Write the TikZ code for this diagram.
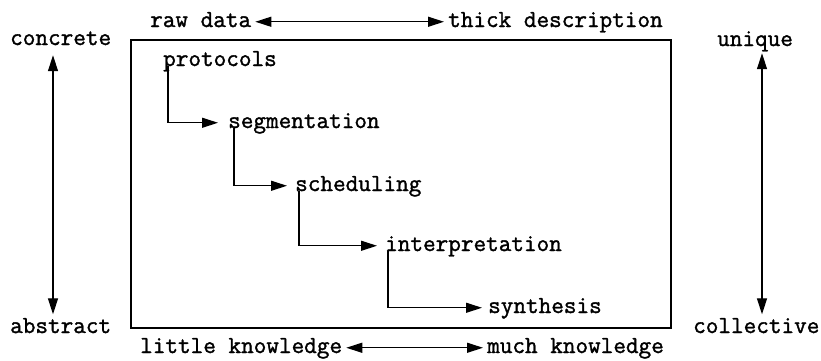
\documentclass[tikz,border=0pt]{standalone}
\usepackage{fontspec}
\newfontfamily\twfont{Latin Modern Mono}[FakeBold=1.4]
\usetikzlibrary{arrows.meta}
\begin{document}
\begin{tikzpicture}[x=1pt,y=-1pt,
  word/.style={inner sep=0pt, anchor=base west, text height=10.5pt, text depth=0pt,
    font=\twfont\fontsize{24.5}{28}\selectfont},
  frame/.style={line width=1.4pt},
  link/.style={-{Triangle[length=16pt,width=10pt]}, line width=1.2pt, shorten >=8pt},
  twoway/.style={{Triangle[length=16pt,width=10pt]}-{Triangle[length=16pt,width=10pt]},
    line width=1.2pt, shorten >=4pt, shorten <=4pt}]
  \useasboundingbox (0,0) rectangle (821,360);

  % frame around the stages
  \draw[frame] (131,40) rectangle (671,328);

  % outer scale labels
  \node[word] (raw) at (150,27) {raw data};
  \node[word] (thick) at (448,27) {thick description};
  \node[word] (concrete) at (10,45) {concrete};
  \node[word] (unique) at (717,46) {unique};
  \node[word] (abstract) at (10,333) {abstract};
  \node[word] (collective) at (693,333) {collective};
  \node[word] (little) at (140,353) {little knowledge};
  \node[word] (much) at (487,353) {much knowledge};

  % stages
  \node[word] (protocols) at (163,66) {protocols};
  \node[word] (segmentation) at (228,128) {segmentation};
  \node[word] (scheduling) at (295,191) {scheduling};
  \node[word] (interpretation) at (385,251) {interpretation};
  \node[word] (synthesis) at (488,313) {synthesis};

  % axes
  \coordinate (laxis) at (53,0);
  \coordinate (raxis) at (762,0);
  \draw[twoway] (raw.east) -- (thick.west);
  \draw[twoway] (little.east) -- (much.west);
  \draw[twoway, shorten <=10pt, shorten >=8pt] (concrete.south -| laxis) -- (abstract.north -| laxis);
  \draw[twoway, shorten <=7pt, shorten >=8pt] (unique.south -| raxis) -- (collective.north -| raxis);

  % stage sequence
  \draw[link, shorten >=10pt] ([xshift=5pt]protocols.south west) |- (segmentation.west);
  \draw[link] ([xshift=6pt]segmentation.south west) |- (scheduling.west);
  \draw[link] ([xshift=4pt]scheduling.south west) |- (interpretation.west);
  \draw[link, shorten >=6pt] ([xshift=3pt]interpretation.south west) |- (synthesis.west);
\end{tikzpicture}
\end{document}
